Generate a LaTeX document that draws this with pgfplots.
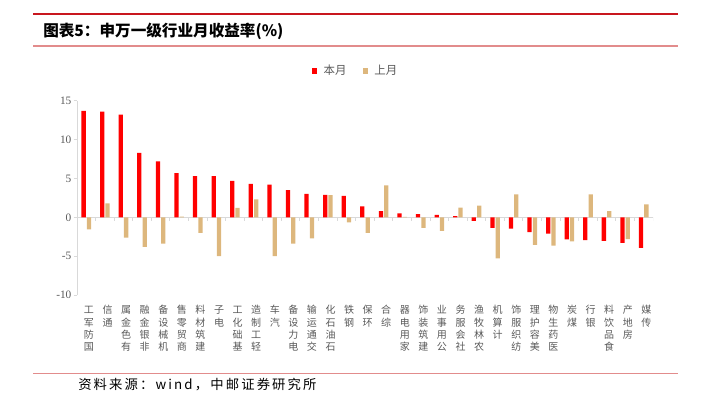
\documentclass[border=0pt]{standalone}
\usepackage{fontspec}
\usepackage{pgfplots}
\pgfplotsset{compat=1.18}
\setmainfont{Liberation Serif}
\newfontfamily\cjk{Noto Sans CJK SC}
\newfontfamily\cjksrc[LetterSpace=16]{Noto Sans CJK SC}
\definecolor{barred}{RGB}{255,0,0}
\definecolor{bartan}{RGB}{221,183,125}
\definecolor{axgray}{RGB}{217,217,217}
\definecolor{txtgray}{RGB}{89,89,89}
\definecolor{linered}{RGB}{200,22,30}
\definecolor{linepink}{RGB}{226,140,140}
\newcommand{\vs}[1]{\begin{tabular}[t]{@{}c@{}}#1\end{tabular}}

\pgfplotstableread{
idx cur prev
0 13.7 -1.55
1 13.6 1.8
2 13.2 -2.6
3 8.3 -3.8
4 7.2 -3.4
5 5.7 0.1
6 5.3 -2.0
7 5.3 -5.0
8 4.7 1.2
9 4.3 2.3
10 4.2 -5.0
11 3.5 -3.4
12 3.0 -2.7
13 2.9 2.85
14 2.75 -0.65
15 1.4 -2.0
16 0.8 4.1
17 0.5 0.05
18 0.4 -1.35
19 0.3 -1.75
20 0.15 1.25
21 -0.45 1.5
22 -1.35 -5.3
23 -1.45 2.95
24 -1.9 -3.55
25 -2.1 -3.65
26 -2.85 -3.1
27 -2.95 2.95
28 -3.05 0.8
29 -3.3 -2.8
30 -3.95 1.65
}\datatable

\begin{document}
\begin{tikzpicture}
\begin{scope}[x=0.75pt,y=-0.75pt]
\useasboundingbox (0,0) rectangle (704,397);
\draw[linered, line width=1.5pt] (33,14.3) -- (678,14.3);
\draw[linepink, line width=1.1pt] (33,45.8) -- (678,45.8);
\draw[linepink, line width=1.1pt] (33,373.5) -- (678,373.5);
\node[anchor=west, inner sep=0pt] at (43,31) {\cjk\bfseries\fontsize{11.7}{13}\selectfont 图表5：申万一级行业月收益率(\%)};
\node[anchor=west, inner sep=0pt] at (78,385) {\cjksrc\fontsize{10}{11}\selectfont 资料来源：wind，中邮证券研究所};
\end{scope}
\begin{axis}[
  at={(57.75pt,-221.25pt)}, anchor=south west,
  width=432pt, height=145.7pt, scale only axis,
  xmin=-0.5, xmax=30.5, ymin=-10, ymax=15,
  ybar=0.8pt, bar width=3.2pt,
  axis y line*=left, axis x line*=bottom,
  x axis line style={draw=none},
  y axis line style={draw=axgray, line width=0.75pt},
  ytick={-10,-5,0,5,10,15},
  yticklabels={-10,-5,0,5,10,15},
  ytick style={draw=axgray, line width=0.75pt},
  tick align=outside, major tick length=2.5pt,
  xtick={0,...,30}, xtick style={draw=none},
  xticklabels={\vs{工\\军\\防\\国},\vs{信\\通},\vs{属\\金\\色\\有},\vs{融\\金\\银\\非},\vs{备\\设\\械\\机},\vs{售\\零\\贸\\商},\vs{料\\材\\筑\\建},\vs{子\\电},\vs{工\\化\\础\\基},\vs{造\\制\\工\\轻},\vs{车\\汽},\vs{备\\设\\力\\电},\vs{输\\运\\通\\交},\vs{化\\石\\油\\石},\vs{铁\\钢},\vs{保\\环},\vs{合\\综},\vs{器\\电\\用\\家},\vs{饰\\装\\筑\\建},\vs{业\\事\\用\\公},\vs{务\\服\\会\\社},\vs{渔\\牧\\林\\农},\vs{机\\算\\计},\vs{饰\\服\\织\\纺},\vs{理\\护\\容\\美},\vs{物\\生\\药\\医},\vs{炭\\煤},\vs{行\\银},\vs{料\\饮\\品\\食},\vs{产\\地\\房},\vs{媒\\传}},
  xticklabel style={anchor=north, inner sep=0pt, font=\cjk\fontsize{7.5}{9.2}\selectfont, text=txtgray, yshift=-5pt, xshift=2pt},
  yticklabel style={font=\fontsize{8.5}{10}\selectfont, text=txtgray, inner sep=0pt, xshift=-1.5pt},
  legend columns=2,
  legend style={at={(0.482,1.153)}, anchor=center, draw=none, fill=none,
    font=\cjk\fontsize{8.6}{10}\selectfont, text=txtgray,
    /tikz/every odd column/.append style={column sep=5pt},
    /tikz/every even column/.append style={column sep=12pt},
    nodes={inner sep=0pt}, cells={anchor=west}},
]
\draw[axgray, line width=0.75pt] (axis cs:-0.5,0) -- (axis cs:30.5,0);
\pgfplotsinvokeforeach{-0.5,0.5,...,30.5}{\draw[axgray, line width=0.75pt] (axis cs:#1,0) -- ++(0pt,-2.5pt);}
\addplot[fill=barred, draw=none, legend image code/.code={\fill[barred] (0pt,-1.9pt) rectangle (3.75pt,1.9pt);}] table[x=idx, y=cur] {\datatable};
\addlegendentry{本月}
\addplot[fill=bartan, draw=none, legend image code/.code={\fill[bartan] (0pt,-1.9pt) rectangle (3.75pt,1.9pt);}] table[x=idx, y=prev] {\datatable};
\addlegendentry{上月}
\end{axis}
\end{tikzpicture}
\end{document}
